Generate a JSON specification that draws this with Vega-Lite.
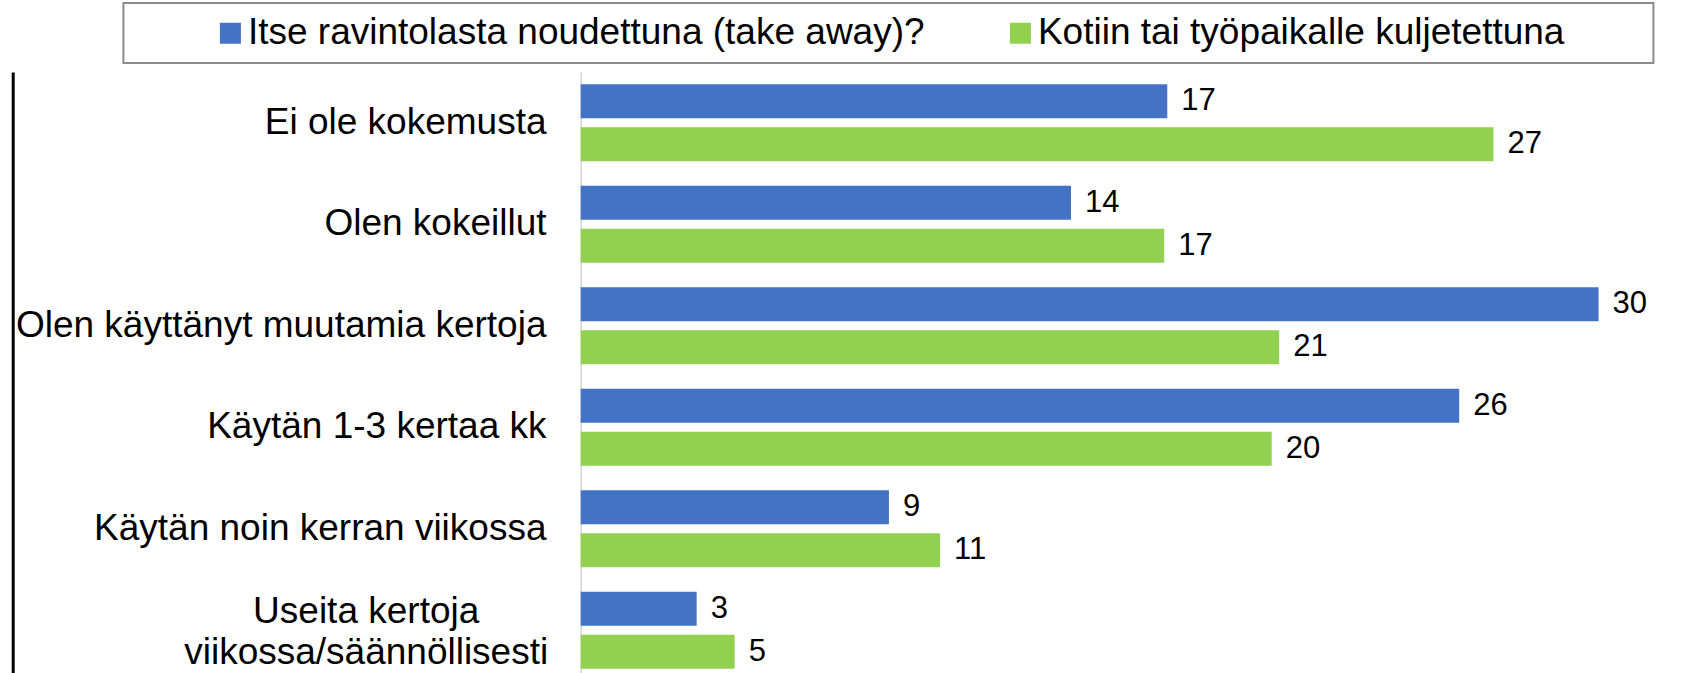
{
  "$schema": "https://vega.github.io/schema/vega-lite/v6.json",
  "autosize": {"type": "none"},
  "width": 1085,
  "height": 601,
  "padding": {"left": 580.7, "top": 72, "right": 17.3, "bottom": 0},
  "background": "white",
  "config": {"font": "Liberation Sans", "view": {"stroke": null}},
  "data": {
    "values": [
      {"category": "Ei ole kokemusta", "series": "Itse ravintolasta noudettuna (take away)?", "value": 17.3, "label": 17},
      {"category": "Ei ole kokemusta", "series": "Kotiin tai työpaikalle kuljetettuna", "value": 26.92, "label": 27},
      {"category": "Olen kokeillut", "series": "Itse ravintolasta noudettuna (take away)?", "value": 14.46, "label": 14},
      {"category": "Olen kokeillut", "series": "Kotiin tai työpaikalle kuljetettuna", "value": 17.21, "label": 17},
      {"category": "Olen käyttänyt muutamia kertoja", "series": "Itse ravintolasta noudettuna (take away)?", "value": 30.02, "label": 30},
      {"category": "Olen käyttänyt muutamia kertoja", "series": "Kotiin tai työpaikalle kuljetettuna", "value": 20.6, "label": 21},
      {"category": "Käytän 1-3 kertaa kk", "series": "Itse ravintolasta noudettuna (take away)?", "value": 25.91, "label": 26},
      {"category": "Käytän 1-3 kertaa kk", "series": "Kotiin tai työpaikalle kuljetettuna", "value": 20.38, "label": 20},
      {"category": "Käytän noin kerran viikossa", "series": "Itse ravintolasta noudettuna (take away)?", "value": 9.09, "label": 9},
      {"category": "Käytän noin kerran viikossa", "series": "Kotiin tai työpaikalle kuljetettuna", "value": 10.6, "label": 11},
      {"category": "Useita kertoja viikossa/säännöllisesti", "series": "Itse ravintolasta noudettuna (take away)?", "value": 3.42, "label": 3},
      {"category": "Useita kertoja viikossa/säännöllisesti", "series": "Kotiin tai työpaikalle kuljetettuna", "value": 4.54, "label": 5}
    ]
  },
  "resolve": {"axis": {"y": "independent"}},
  "layer": [
    {
      "mark": {"type": "bar"},
      "encoding": {
        "y": {
          "field": "category",
          "type": "nominal",
          "sort": null,
          "scale": {"paddingInner": 0.2414, "paddingOuter": 0.0813, "align": 0.745},
          "axis": {
            "title": null,
            "orient": "left",
            "ticks": false,
            "grid": false,
            "domainColor": "#d4d4d4",
            "domainWidth": 1.5,
            "labelFont": "Liberation Sans",
            "labelFontSize": 37,
            "labelColor": "black",
            "labelLimit": 1000,
            "labelBaseline": "middle",
            "labelLineHeight": 41,
            "labelAlign": {"condition": {"test": "datum.value === 'Useita kertoja viikossa/säännöllisesti'", "value": "center"}, "value": "right"},
            "labelPadding": {"condition": {"test": "datum.value === 'Useita kertoja viikossa/säännöllisesti'", "value": 215}, "value": 34.7},
            "labelOffset": {"condition": {"test": "datum.value === 'Useita kertoja viikossa/säännöllisesti'", "value": -18}, "value": 0},
            "labelExpr": "datum.value === 'Useita kertoja viikossa/säännöllisesti' ? ['Useita kertoja', 'viikossa/säännöllisesti'] : datum.label"
          }
        },
        "yOffset": {
          "field": "series",
          "type": "nominal",
          "sort": null,
          "scale": {"paddingInner": 0.209, "paddingOuter": 0}
        },
        "x": {
          "field": "value",
          "type": "quantitative",
          "scale": {"domain": [0, 32], "nice": false, "zero": true},
          "axis": null
        },
        "color": {
          "field": "series",
          "type": "nominal",
          "sort": null,
          "scale": {
            "domain": ["Itse ravintolasta noudettuna (take away)?", "Kotiin tai työpaikalle kuljetettuna"],
            "range": ["#4472C4", "#92D050"]
          },
          "legend": {
            "orient": "none",
            "legendX": -457.3,
            "legendY": -69,
            "direction": "horizontal",
            "title": " ",
            "titleOrient": "right",
            "titleFontSize": 1,
            "titlePadding": 77,
            "symbolType": "square",
            "symbolSize": 441,
            "symbolStrokeWidth": 0,
            "symbolOpacity": 1,
            "symbolOffset": 77,
            "labelOffset": -1,
            "labelFont": "Liberation Sans",
            "labelFontSize": 37,
            "labelColor": "black",
            "labelLimit": 2000,
            "columnPadding": -1,
            "padding": 11.5,
            "strokeColor": "#8c8c8c",
            "fillColor": "white",
            "encode": {"legend": {"update": {"strokeWidth": {"value": 2}}}}
          }
        }
      }
    },
    {
      "mark": {"type": "text", "align": "left", "baseline": "middle", "dx": 14, "fontSize": 31, "color": "black", "font": "Liberation Sans"},
      "encoding": {
        "y": {
          "field": "category",
          "type": "nominal",
          "sort": null,
          "axis": {
            "title": null,
            "orient": "left",
            "offset": 568,
            "labels": false,
            "ticks": false,
            "grid": false,
            "domainColor": "black",
            "domainWidth": 3
          }
        },
        "yOffset": {"field": "series", "type": "nominal", "sort": null},
        "x": {"field": "value", "type": "quantitative", "axis": null},
        "text": {"field": "label", "type": "quantitative"}
      }
    }
  ]
}
